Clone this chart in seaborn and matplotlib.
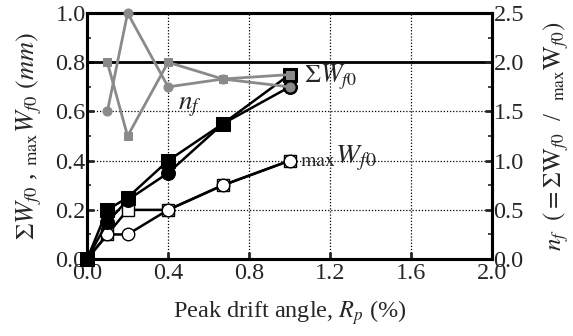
import numpy as np
import pandas as pd
import matplotlib
matplotlib.use("Agg")
import matplotlib.pyplot as plt
import seaborn as sns
from matplotlib.ticker import MultipleLocator

# ---- data ----
drift = [0.0, 0.1, 0.2, 0.4, 0.67, 1.0]
sum_sq = [0.0, 0.20, 0.25, 0.40, 0.55, 0.75]      # filled squares
sum_ci = [0.0, 0.15, 0.24, 0.35, 0.55, 0.70]      # filled circles
max_sq = [0.0, 0.10, 0.20, 0.20, 0.30, 0.40]      # open squares
max_ci = [0.0, 0.10, 0.10, 0.20, 0.30, 0.40]      # open circles
drift_nf = [0.1, 0.2, 0.4, 0.67, 1.0]
nf_sq = [2.0, 1.25, 2.0, 1.83, 1.875]
nf_ci = [1.5, 2.5, 1.75, 1.83, 1.75]
xticks = [0.0, 0.4, 0.8, 1.2, 1.6, 2.0]
yticks = [0.0, 0.2, 0.4, 0.6, 0.8, 1.0]
y2ticks = [0.0, 0.5, 1.0, 1.5, 2.0, 2.5]

sns.set_style("ticks")
plt.rcParams['font.family'] = ['Liberation Serif', 'DejaVu Serif']
plt.rcParams['mathtext.fontset'] = 'stix'
FS = 17.5
LFS = 17

fig = plt.figure(figsize=(5.73, 3.36), dpi=100)
ax = fig.add_axes([0.152, 0.229, 0.707, 0.732])
ax2 = ax.twinx()

df = pd.DataFrame({"x": drift, "sum_sq": sum_sq, "sum_ci": sum_ci,
                   "max_sq": max_sq, "max_ci": max_ci})
dfn = pd.DataFrame({"x": drift_nf, "nf_sq": nf_sq, "nf_ci": nf_ci})

# grid and reference line
for v in [0.4, 0.8, 1.2, 1.6]:
    ax.axvline(v, color='black', lw=0.9, ls=(0, (1, 1.5)), zorder=0)
for v in [0.2, 0.4, 0.6]:
    ax.axhline(v, color='black', lw=0.9, ls=(0, (1, 1.5)), zorder=0)
ax.axhline(0.8, color='black', lw=2.0, zorder=1)

kw = dict(estimator=None, sort=False, legend=False)
sns.lineplot(data=df, x="x", y="max_sq", ax=ax, color='black', lw=1.8,
             marker='s', markersize=8, markerfacecolor='white',
             markeredgecolor='black', markeredgewidth=1.0, clip_on=False, zorder=3, **kw)
sns.lineplot(data=df, x="x", y="max_ci", ax=ax, color='black', lw=1.8,
             marker='o', markersize=9, markerfacecolor='white',
             markeredgecolor='black', markeredgewidth=1.0, clip_on=False, zorder=3, **kw)
sns.lineplot(data=df, x="x", y="sum_ci", ax=ax, color='black', lw=1.8,
             marker='o', markersize=10, markerfacecolor='black',
             markeredgecolor='black', clip_on=False, zorder=4, **kw)
sns.lineplot(data=df, x="x", y="sum_sq", ax=ax, color='black', lw=1.8,
             marker='s', markersize=10, markerfacecolor='black',
             markeredgecolor='black', clip_on=False, zorder=4, **kw)

gray = '#8a8a8a'
sns.lineplot(data=dfn, x="x", y="nf_ci", ax=ax2, color=gray, lw=2.0,
             marker='o', markersize=6.5, markerfacecolor=gray,
             markeredgecolor=gray, clip_on=False, zorder=5, **kw)
sns.lineplot(data=dfn, x="x", y="nf_sq", ax=ax2, color=gray, lw=2.0,
             marker='s', markersize=6, markerfacecolor=gray,
             markeredgecolor=gray, clip_on=False, zorder=5, **kw)

ax.set_xlim(0, 2.0)
ax.set_ylim(0, 1.0)
ax2.set_ylim(0, 2.5)
ax.set_xticks(xticks)
ax.set_xticklabels([f"{v:.1f}" for v in xticks], fontsize=FS)
ax.set_yticks(yticks)
ax.set_yticklabels([f"{v:.1f}" for v in yticks], fontsize=FS)
ax2.set_yticks(y2ticks)
ax2.set_yticklabels([f"{v:.1f}" for v in y2ticks], fontsize=FS)
ax.yaxis.set_minor_locator(MultipleLocator(0.1))
ax2.yaxis.set_minor_locator(MultipleLocator(0.25))

ax.tick_params(axis='both', which='major', direction='in', length=5, width=2, pad=1)
ax.tick_params(axis='x', which='major', pad=3)
ax.tick_params(axis='y', which='minor', direction='in', length=3, width=1.2)
ax2.tick_params(axis='y', which='major', direction='in', length=5, width=2, pad=1)
ax2.tick_params(axis='y', which='minor', direction='in', length=3, width=1.2)
for a in (ax, ax2):
    for s in a.spines.values():
        s.set_linewidth(2.2)
        s.set_visible(True)
        s.set_color('black')

ax.set_xlabel(r"Peak drift angle, $R_p$ (%)", fontsize=LFS + 0.5, labelpad=10)
ax.set_ylabel(r"$\Sigma W_{f0}$ , $_{\rm max}W_{f0}$ $(mm)$", fontsize=LFS + 2, labelpad=8)
ax2.set_ylabel(r"$n_f$  $(=\Sigma \mathrm{W}_{f0}$  /  $_{\rm max}\mathrm{W}_{f0})$",
               fontsize=LFS + 1, labelpad=12)

ax.text(1.07, 0.74, r"$\Sigma W_{f0}$", fontsize=FS + 1, va='center', ha='left', zorder=6)
ax.text(1.05, 0.41, r"$_{\rm max}W_{f0}$", fontsize=FS + 3, va='center', ha='left', zorder=6)
ax.text(0.45, 0.62, r"$n_f$", fontsize=FS + 2, va='center', ha='left', zorder=6)

fig.savefig("out.png", dpi=100)
